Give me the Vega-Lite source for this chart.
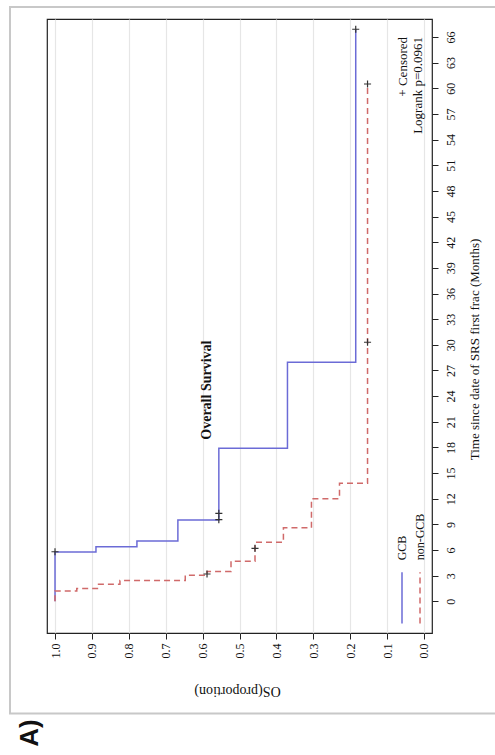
{
  "$schema": "https://vega.github.io/schema/vega-lite/v6.json",
  "width": 385,
  "height": 614,
  "autosize": "none",
  "padding": {"left": 47, "top": 19, "right": 63, "bottom": 122},
  "background": "white",
  "config": {"view": {"stroke": "#222222", "strokeWidth": 1.2}, "font": "Liberation Serif"},
  "datasets": {
    "curves": [
      {"group": "GCB", "time": 0, "prop": 1.0},
      {"group": "GCB", "time": 5.77, "prop": 0.889},
      {"group": "GCB", "time": 6.4, "prop": 0.778},
      {"group": "GCB", "time": 7.05, "prop": 0.667},
      {"group": "GCB", "time": 9.5, "prop": 0.556},
      {"group": "GCB", "time": 17.9, "prop": 0.370},
      {"group": "GCB", "time": 27.95, "prop": 0.185},
      {"group": "GCB", "time": 66.9, "prop": 0.185},
      {"group": "non-GCB", "time": 0, "prop": 1.0},
      {"group": "non-GCB", "time": 1.2, "prop": 0.941},
      {"group": "non-GCB", "time": 1.5, "prop": 0.882},
      {"group": "non-GCB", "time": 2.0, "prop": 0.824},
      {"group": "non-GCB", "time": 2.45, "prop": 0.647},
      {"group": "non-GCB", "time": 3.05, "prop": 0.588},
      {"group": "non-GCB", "time": 3.5, "prop": 0.523},
      {"group": "non-GCB", "time": 4.7, "prop": 0.458},
      {"group": "non-GCB", "time": 6.9, "prop": 0.381},
      {"group": "non-GCB", "time": 8.6, "prop": 0.305},
      {"group": "non-GCB", "time": 12.0, "prop": 0.229},
      {"group": "non-GCB", "time": 13.8, "prop": 0.153},
      {"group": "non-GCB", "time": 60.5, "prop": 0.153}
    ],
    "censored": [
      {"group": "GCB", "time": 5.8, "prop": 1.0},
      {"group": "GCB", "time": 9.55, "prop": 0.556},
      {"group": "GCB", "time": 10.3, "prop": 0.556},
      {"group": "GCB", "time": 66.9, "prop": 0.185},
      {"group": "non-GCB", "time": 3.2, "prop": 0.588},
      {"group": "non-GCB", "time": 6.2, "prop": 0.458},
      {"group": "non-GCB", "time": 30.3, "prop": 0.153},
      {"group": "non-GCB", "time": 60.5, "prop": 0.153}
    ],
    "one": [{}]
  },
  "layer": [
    {
      "data": {"name": "curves"},
      "mark": {"type": "line", "interpolate": "step-before", "strokeWidth": 1.5},
      "encoding": {
        "x": {
          "field": "prop", "type": "quantitative",
          "scale": {"domain": [-0.0217, 1.0217], "reverse": true, "nice": false, "zero": false},
          "axis": {
            "title": "OS(proportion)",
            "values": [0, 0.1, 0.2, 0.3, 0.4, 0.5, 0.6, 0.7, 0.8, 0.9, 1.0],
            "tickCount": 11,
            "format": ".1f",
            "labelOverlap": false, "labelBound": false, "labelFlush": false,
            "labelAngle": 270, "labelAlign": "right", "labelBaseline": "middle",
            "labelFont": "Liberation Serif", "labelFontSize": 12, "labelColor": "#111111", "labelPadding": 4,
            "tickSize": 6, "tickColor": "#222222", "domain": false,
            "grid": true, "gridColor": "#e6e6e6", "gridWidth": 1.2,
            "titleAngle": 180, "titleFont": "Liberation Serif", "titleFontSize": 14, "titleFontWeight": "normal",
            "titleColor": "#111111", "titleX": 190, "titleY": 57, "titleAlign": "center", "titleBaseline": "middle"
          }
        },
        "y": {
          "field": "time", "type": "quantitative",
          "scale": {"domain": [-3.7, 68.1], "nice": false, "zero": false},
          "axis": {
            "orient": "right",
            "title": "Time since date of SRS first frac (Months)",
            "values": [0, 3, 6, 9, 12, 15, 18, 21, 24, 27, 30, 33, 36, 39, 42, 45, 48, 51, 54, 57, 60, 63, 66],
            "tickCount": 23,
            "labelOverlap": false, "labelBound": false, "labelFlush": false,
            "labelAngle": 270, "labelAlign": "center", "labelBaseline": "top",
            "labelFont": "Liberation Serif", "labelFontSize": 12, "labelColor": "#111111", "labelPadding": 7,
            "tickSize": 6, "tickColor": "#222222", "domain": false, "grid": false,
            "titleAngle": 270, "titleFont": "Liberation Serif", "titleFontSize": 13, "titleFontWeight": "normal",
            "titleColor": "#111111", "titleX": 42, "titleY": 330, "titleAlign": "center", "titleBaseline": "middle"
          }
        },
        "color": {"field": "group", "type": "nominal", "scale": {"domain": ["GCB", "non-GCB"], "range": ["#6b6bd6", "#d06a6a"]}, "legend": null},
        "strokeDash": {"field": "group", "type": "nominal", "scale": {"domain": ["GCB", "non-GCB"], "range": [[1, 0], [6, 4]]}, "legend": null},
        "order": {"field": "time", "type": "quantitative"}
      }
    },
    {
      "data": {"name": "one"},
      "mark": {"type": "rect", "filled": false, "stroke": "#c8c8c8", "strokeWidth": 2, "clip": false},
      "encoding": {
        "x": {"datum": 1.122, "type": "quantitative"},
        "x2": {"datum": -0.2},
        "y": {"datum": 69.5, "type": "quantitative"},
        "y2": {"datum": -13.1}
      }
    },
    {
      "data": {"name": "censored"},
      "mark": {"type": "point", "shape": "M-1,0L1,0M0,-1L0,1", "filled": false, "stroke": "#333333", "strokeWidth": 1.2, "size": 50, "opacity": 1},
      "encoding": {
        "x": {"field": "prop", "type": "quantitative"},
        "y": {"field": "time", "type": "quantitative"}
      }
    },
    {
      "data": {"name": "one"},
      "mark": {"type": "rule", "color": "#6b6bd6", "strokeWidth": 1.5},
      "encoding": {
        "x": {"datum": 0.0596, "type": "quantitative"},
        "y": {"datum": -2.6, "type": "quantitative"},
        "y2": {"datum": 3.4}
      }
    },
    {
      "data": {"name": "one"},
      "mark": {"type": "rule", "color": "#d06a6a", "strokeWidth": 1.5, "strokeDash": [6, 4]},
      "encoding": {
        "x": {"datum": 0.0108, "type": "quantitative"},
        "y": {"datum": -2.6, "type": "quantitative"},
        "y2": {"datum": 3.4}
      }
    },
    {
      "data": {"name": "one"},
      "mark": {"type": "text", "text": "GCB", "angle": 270, "align": "left", "baseline": "middle", "font": "Liberation Serif", "fontSize": 12, "color": "#111111"},
      "encoding": {
        "x": {"datum": 0.0596, "type": "quantitative"},
        "y": {"datum": 4.8, "type": "quantitative"}
      }
    },
    {
      "data": {"name": "one"},
      "mark": {"type": "text", "text": "non-GCB", "angle": 270, "align": "left", "baseline": "middle", "font": "Liberation Serif", "fontSize": 12, "color": "#111111"},
      "encoding": {
        "x": {"datum": 0.0108, "type": "quantitative"},
        "y": {"datum": 4.8, "type": "quantitative"}
      }
    },
    {
      "data": {"name": "one"},
      "mark": {"type": "text", "text": "+ Censored", "angle": 270, "align": "right", "baseline": "middle", "font": "Liberation Serif", "fontSize": 13, "color": "#111111"},
      "encoding": {
        "x": {"datum": 0.057, "type": "quantitative"},
        "y": {"datum": 66.0, "type": "quantitative"}
      }
    },
    {
      "data": {"name": "one"},
      "mark": {"type": "text", "text": "Logrank p=0.0961", "angle": 270, "align": "right", "baseline": "middle", "font": "Liberation Serif", "fontSize": 13, "color": "#111111"},
      "encoding": {
        "x": {"datum": 0.016, "type": "quantitative"},
        "y": {"datum": 66.0, "type": "quantitative"}
      }
    },
    {
      "data": {"name": "one"},
      "mark": {"type": "text", "text": "Overall Survival", "angle": 270, "align": "center", "baseline": "middle", "font": "Liberation Serif", "fontSize": 14, "fontWeight": "bold", "color": "#111111"},
      "encoding": {
        "x": {"datum": 0.588, "type": "quantitative"},
        "y": {"datum": 24.7, "type": "quantitative"}
      }
    },
    {
      "data": {"name": "one"},
      "mark": {"type": "text", "text": "A)", "angle": 270, "align": "center", "baseline": "middle", "font": "Liberation Sans", "fontSize": 26, "fontWeight": "bold", "color": "#111111"},
      "encoding": {
        "x": {"datum": 1.068, "type": "quantitative"},
        "y": {"datum": -15.4, "type": "quantitative"}
      }
    }
  ]
}
